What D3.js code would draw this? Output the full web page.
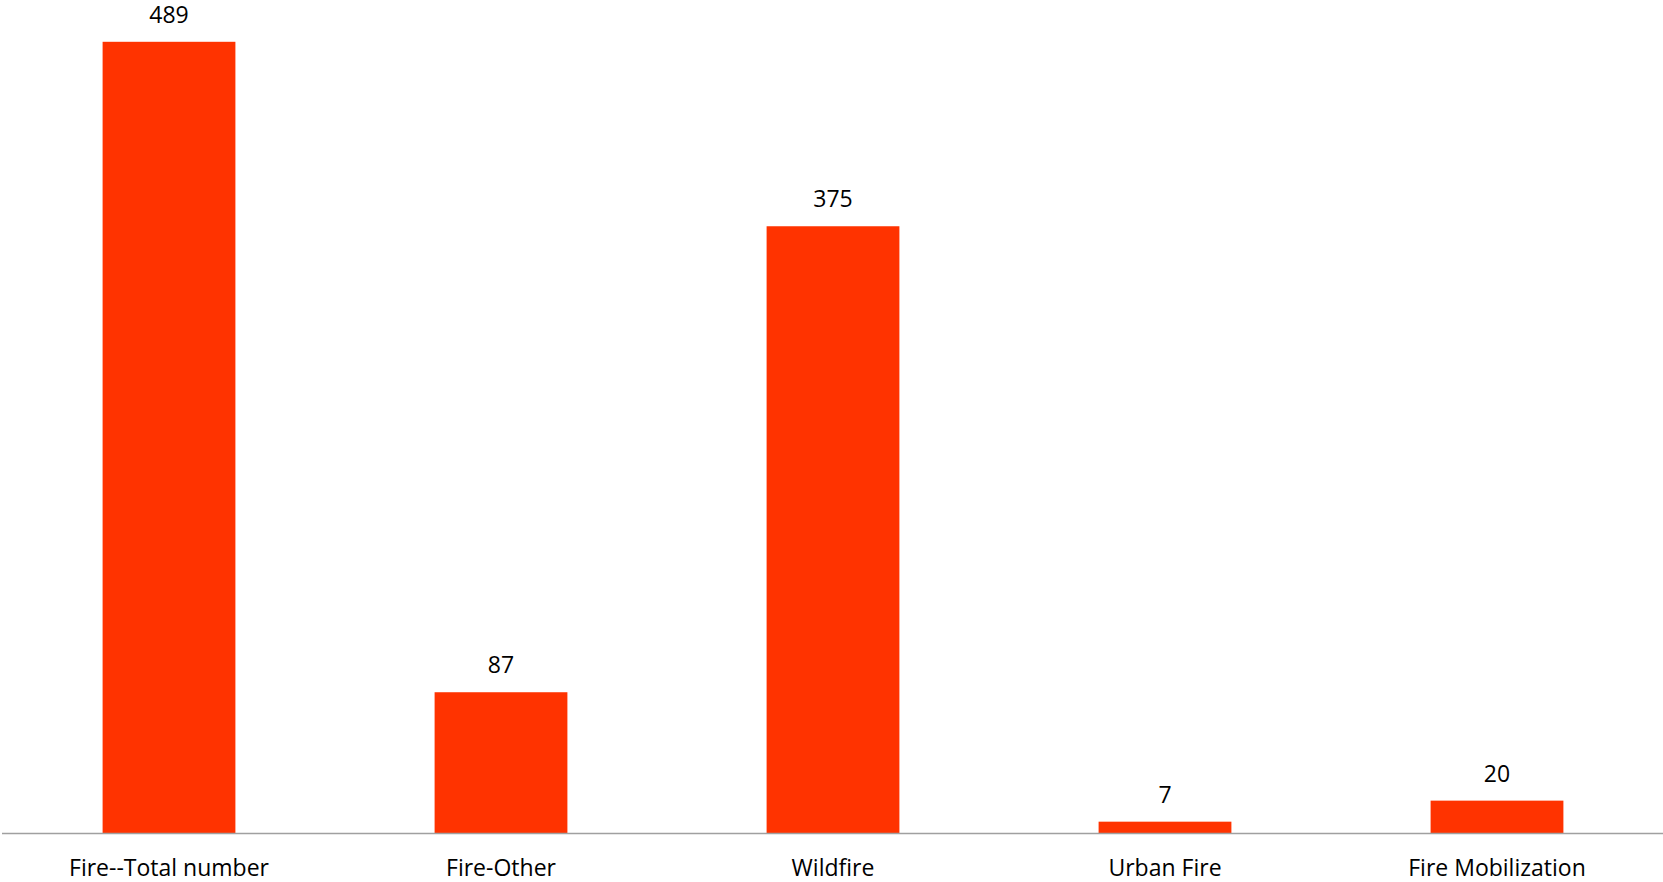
<!DOCTYPE html>
<html>
<head>
<meta charset="utf-8">
<script src="https://cdn.jsdelivr.net/npm/d3@7"></script>
<style>
  html, body { margin: 0; padding: 0; background: #fff; }
  svg { display: block; }
</style>
</head>
<body>
<svg id="chart" width="1663" height="882"></svg>
<script>
const categories = ["Fire--Total number", "Fire-Other", "Wildfire", "Urban Fire", "Fire Mobilization"];
const values = [489, 87, 375, 7, 20];

const W = 1663, H = 882;
const svg = d3.select("#chart");

const x = d3.scaleBand()
  .domain(categories)
  .range([3, 1663])
  .paddingInner(0.6)
  .paddingOuter(0.3);

const y = d3.scaleLinear()
  .domain([0, 500])
  .range([833, 24]);

const font = "'Open Sans', sans-serif";

svg.append("g").selectAll("rect")
  .data(values)
  .join("rect")
  .attr("x", (d, i) => x(categories[i]))
  .attr("y", d => y(d))
  .attr("width", x.bandwidth())
  .attr("height", d => y(0) - y(d))
  .attr("fill", "#ff3300");

// baseline axis
const xAxis = d3.axisBottom(x).tickSize(0).tickPadding(0);
const gx = svg.append("g").attr("transform", `translate(0,${y(0)})`).call(xAxis);
gx.select(".domain").attr("stroke", "#a0a0a0").attr("stroke-width", 1.5)
  .attr("d", `M2,0.5H${W}`);
gx.selectAll(".tick text")
  .attr("y", 43)
  .attr("dy", 0)
  .attr("font-family", font)
  .attr("font-size", 23)
  .attr("fill", "#000");

// value labels
svg.append("g").selectAll("text")
  .data(values)
  .join("text")
  .attr("x", (d, i) => x(categories[i]) + x.bandwidth() / 2)
  .attr("y", d => y(d) - 19)
  .attr("text-anchor", "middle")
  .attr("font-family", font)
  .attr("font-size", 23)
  .attr("fill", "#000")
  .text(d => d);
</script>
</body>
</html>
